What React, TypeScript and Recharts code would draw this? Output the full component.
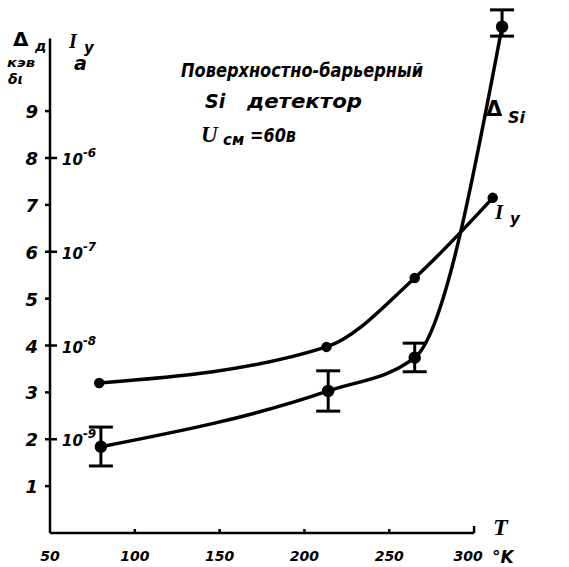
import { LineChart, Line, XAxis, YAxis, ErrorBar, ReferenceLine } from "recharts";

// Δ_Si resolution (keV) vs temperature, with error bars [down, up]
const deltaTemps = [80, 214, 265, 316.5];
const deltaValues = [1.84, 3.03, 3.74, 10.8];
const deltaErrors = [
  [0.41, 0.42],
  [0.43, 0.43],
  [0.3, 0.31],
  [0.2, 0.36],
];

// reverse current I_y, plotted on the same grid (log decades at 2, 4, 6, 8)
const currentTemps = [79, 213, 265, 311];
const currentValues = [3.2, 3.97, 5.44, 7.15];

const tempTicks = [50, 100, 150, 200, 250, 300];
const deltaTicks = [1, 2, 3, 4, 5, 6, 7, 8, 9];
const currentTickLevels = [2, 4, 6, 8];
const currentTickExponents = ["-9", "-8", "-7", "-6"];

const deltaData = deltaTemps.map((t, i) => ({ t, v: deltaValues[i], err: deltaErrors[i] }));
const currentData = currentTemps.map((t, i) => ({ t, v: currentValues[i] }));

const ink = "#000";
const hand = {
  fontFamily: "DejaVu Sans",
  fontStyle: "italic" as const,
  fontWeight: "bold" as const,
  fill: ink,
};
const serif = {
  fontFamily: "Liberation Serif",
  fontStyle: "italic" as const,
  fontWeight: "bold" as const,
  fill: ink,
};

const TempTick = ({ x, y, payload }: any) => {
  const last = payload.value === tempTicks[tempTicks.length - 1];
  return (
    <g>
      {payload.value !== tempTicks[0] && (
        <line x1={x} x2={x} y1={y} y2={y - (last ? 7 : 4)} stroke={ink} strokeWidth={2.5} />
      )}
      <text x={last ? x - 6 : x} y={y + 28} textAnchor="middle" fontSize={14} style={hand}>
        {payload.value}
      </text>
    </g>
  );
};

const DeltaTick = ({ x, y, payload }: any) => {
  const idx = currentTickLevels.indexOf(payload.value);
  return (
    <g>
      <line x1={x - 5} x2={idx >= 0 ? x + 7 : x} y1={y} y2={y} stroke={ink} strokeWidth={2.5} />
      <text x={x - 12} y={y + 7} textAnchor="end" fontSize={18} style={hand}>
        {payload.value}
      </text>
      {idx >= 0 && (
        <text x={x + 12} y={y + 7} fontSize={15} style={hand}>
          10
          <tspan dy={-8} fontSize={12}>
            {currentTickExponents[idx]}
          </tspan>
        </text>
      )}
    </g>
  );
};

const Annotations = () => (
  <svg
    width={569}
    height={567}
    style={{ position: "absolute", left: 0, top: 0, pointerEvents: "none" }}
  >
    {/* left axis titles */}
    <text x={13} y={46} fontSize={20} style={{ ...hand, fontStyle: "normal" }}>Δ</text>
    <text x={35} y={51} fontSize={14} style={hand}>д</text>
    <text x={7} y={67} fontSize={13} textLength={28} lengthAdjust="spacingAndGlyphs" style={hand}>кэв</text>
    <text x={8} y={84} fontSize={14} style={hand}>δι</text>
    <text x={69} y={48} fontSize={20} style={serif}>I</text>
    <text x={84} y={53} fontSize={15} style={hand}>y</text>
    <text x={74} y={70} fontSize={19} style={hand}>а</text>

    {/* detector caption */}
    <text x={181} y={77} fontSize={19} textLength={242} lengthAdjust="spacingAndGlyphs" style={hand}>
      Поверхностно-барьерный
    </text>
    <text x={205} y={108} fontSize={19} style={hand}>Si</text>
    <text x={247} y={108} fontSize={19} textLength={115} lengthAdjust="spacingAndGlyphs" style={hand}>
      детектор
    </text>
    <text x={201} y={142} fontSize={23} style={serif}>U</text>
    <text x={223} y={145} fontSize={15} style={hand}>см</text>
    <text x={250} y={142} fontSize={19} textLength={46} lengthAdjust="spacingAndGlyphs" style={hand}>
      =60в
    </text>

    {/* curve labels */}
    <text x={486} y={116} fontSize={21} style={{ ...hand, fontStyle: "normal" }}>Δ</text>
    <text x={508} y={123} fontSize={16} style={hand}>Si</text>
    <text x={495} y={219} fontSize={21} style={serif}>I</text>
    <text x={510} y={224} fontSize={15} style={hand}>y</text>

    {/* temperature axis title */}
    <text x={493} y={535} fontSize={24} style={serif}>T</text>
    <text x={492} y={563} fontSize={17} style={hand}>°K</text>
  </svg>
);

export default function App() {
  return (
    <div style={{ position: "absolute", left: 0, top: 0, width: 569, height: 567, background: "#fff" }}>
      <LineChart width={569} height={567} margin={{ top: 8, right: 61, bottom: 0, left: 0 }}>
        <XAxis
          type="number"
          dataKey="t"
          domain={[50, 320]}
          ticks={tempTicks}
          height={34}
          axisLine={false}
          tickLine={false}
          tickSize={0}
          tickMargin={0}
          tick={TempTick}
          allowDuplicatedCategory={false}
        />
        <YAxis
          type="number"
          domain={[0, 11.2]}
          ticks={deltaTicks}
          width={50}
          axisLine={false}
          tickLine={false}
          tickSize={0}
          tickMargin={0}
          tick={DeltaTick}
        />
        <ReferenceLine
          segment={[{ x: 50, y: 0 }, { x: 300, y: 0 }]}
          stroke={ink}
          strokeWidth={2.5}
        />
        <ReferenceLine
          segment={[{ x: 50, y: 0 }, { x: 50, y: 10.55 }]}
          stroke={ink}
          strokeWidth={2.5}
        />
        <Line
          data={currentData}
          dataKey="v"
          type="monotone"
          stroke={ink}
          strokeWidth={3.5}
          dot={{ r: 3.5, fill: ink, stroke: ink }}
          isAnimationActive={false}
        />
        <Line
          data={deltaData}
          dataKey="v"
          type="monotone"
          stroke={ink}
          strokeWidth={3.5}
          dot={{ r: 4.5, fill: ink, stroke: ink }}
          isAnimationActive={false}
        >
          <ErrorBar dataKey="err" direction="y" width={12} stroke={ink} strokeWidth={3} />
        </Line>
      </LineChart>
      <Annotations />
    </div>
  );
}
